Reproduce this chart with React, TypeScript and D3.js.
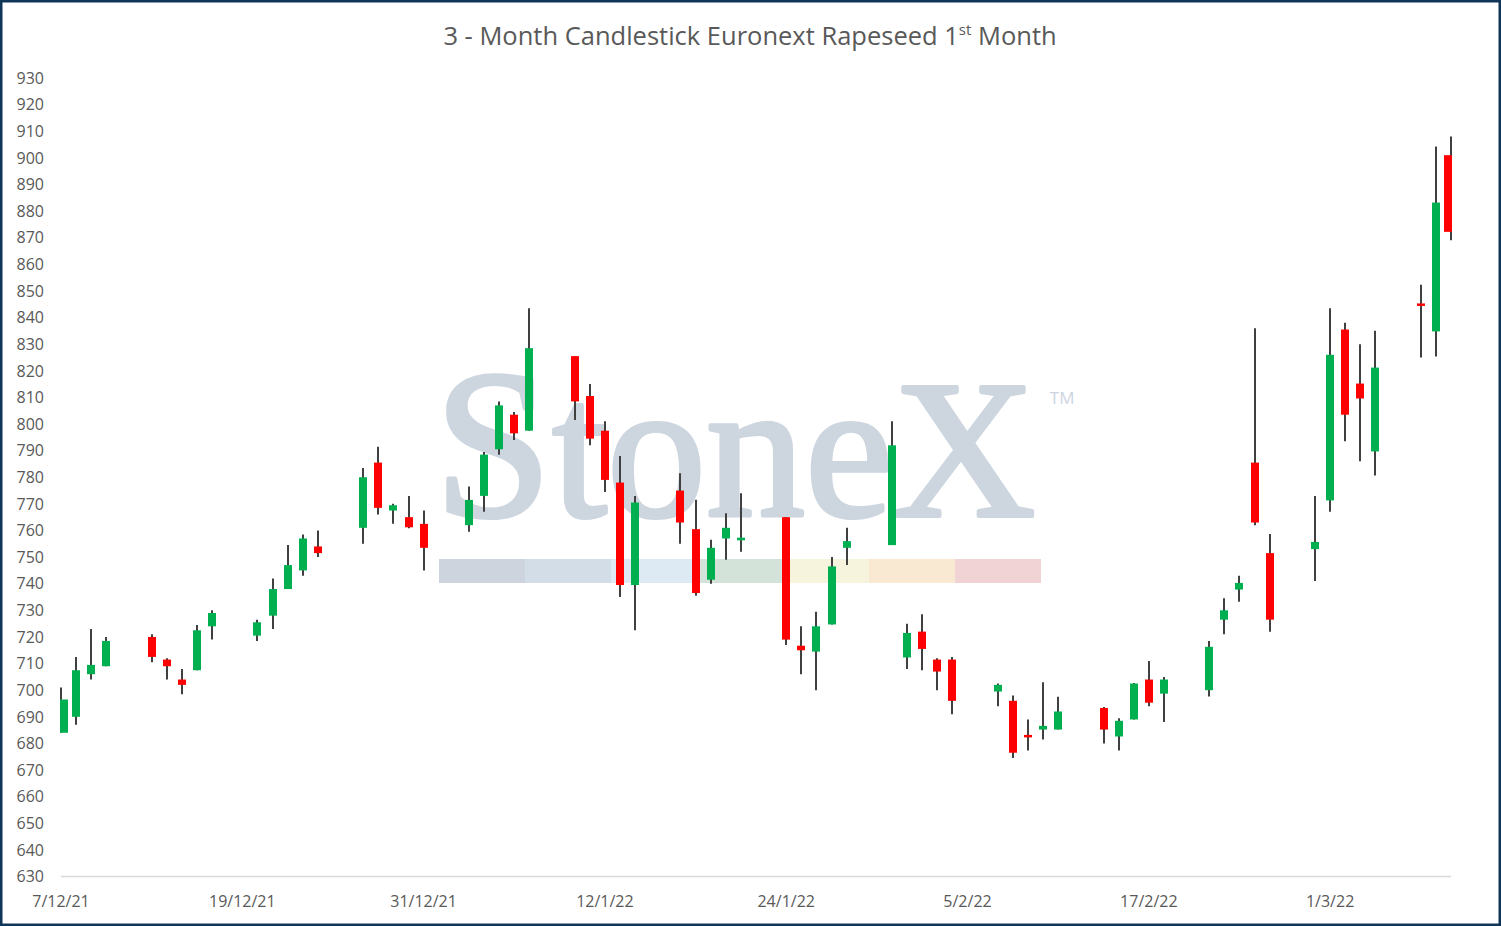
import React from "react";
import * as d3 from "d3";

// Euronext Rapeseed 1st month, daily OHLC
const dates = [
  "2021-12-07", "2021-12-08", "2021-12-09", "2021-12-10",
  "2021-12-13", "2021-12-14", "2021-12-15", "2021-12-16", "2021-12-17",
  "2021-12-20", "2021-12-21", "2021-12-22", "2021-12-23", "2021-12-24",
  "2021-12-27", "2021-12-28", "2021-12-29", "2021-12-30", "2021-12-31",
  "2022-01-03", "2022-01-04", "2022-01-05", "2022-01-06", "2022-01-07",
  "2022-01-10", "2022-01-11", "2022-01-12", "2022-01-13", "2022-01-14",
  "2022-01-17", "2022-01-18", "2022-01-19", "2022-01-20", "2022-01-21",
  "2022-01-24", "2022-01-25", "2022-01-26", "2022-01-27", "2022-01-28",
  "2022-01-31", "2022-02-01", "2022-02-02", "2022-02-03", "2022-02-04",
  "2022-02-07", "2022-02-08", "2022-02-09", "2022-02-10", "2022-02-11",
  "2022-02-14", "2022-02-15", "2022-02-16", "2022-02-17", "2022-02-18",
  "2022-02-21", "2022-02-22", "2022-02-23", "2022-02-24", "2022-02-25",
  "2022-02-28", "2022-03-01", "2022-03-02", "2022-03-03", "2022-03-04",
  "2022-03-07", "2022-03-08", "2022-03-09",
];

const open = [
  684, 690, 706, 709,
  720, 711.5, 704, 707.5, 724,
  720.5, 728, 738, 745, 754,
  761, 785.5, 767.5, 765, 762.5,
  762, 773, 790.5, 803.5, 797.5,
  825.5, 810.5, 797.5, 778, 739.5,
  775, 760.5, 741.5, 757, 756.3,
  765, 716.7, 714.5, 724.7, 753.5,
  754.5, 712.3, 722, 711.5, 711.5,
  699.5, 696, 683.2, 685.2, 685.2,
  693.3, 682.6, 689, 704, 698.7,
  700, 726.5, 737.8, 785.5, 751.5,
  753, 771.3, 835.5, 815.2, 789.7,
  845.3, 834.8, 901,
];

const high = [
  701, 712.5, 723, 720,
  721, 712, 708, 724.5, 730,
  726.5, 742, 754.5, 758.5, 760,
  783.5, 791.5, 770, 773, 767.5,
  776.5, 789.5, 808.5, 804.5, 843.5,
  825.5, 815, 801, 788, 773,
  781.5, 771.5, 756.5, 766.5, 774,
  765, 724, 729.5, 750, 761,
  801, 725, 728.5, 712, 712.5,
  702.5, 698, 689, 703, 697.5,
  693.7, 689.5, 702.7, 711, 705,
  718.5, 734.5, 743, 836, 758.7,
  773, 843.5, 838, 830, 835,
  852.3, 904.3, 908,
];

const low = [
  684, 687, 704, 709,
  710.5, 704, 698.5, 707.5, 719,
  718.5, 723, 738, 743, 750,
  755, 766, 762.5, 760.8, 745,
  759.5, 767, 788.5, 794, 797.5,
  801.5, 792, 774.5, 735, 722.5,
  755, 735.5, 740, 749, 752,
  717, 706, 700, 724.7, 747,
  754.5, 708, 707.5, 700, 691,
  694, 674.5, 677.3, 681.5, 685.2,
  680, 677.3, 689, 694, 688,
  697.6, 721, 733.2, 762, 722,
  741, 767, 793.5, 786, 780.7,
  825, 825.4, 869,
];

const close = [
  696.5, 707.5, 709.5, 718.5,
  712.5, 709, 702, 722.5, 729,
  725.5, 738, 747, 757, 751.5,
  780, 768.5, 769.5, 761.2, 753.5,
  771.5, 788.5, 807, 796.5, 828.5,
  808.5, 794.5, 779, 739.5, 770.5,
  763, 736.5, 753.5, 761, 757.3,
  719, 715, 724, 746.5, 756,
  792, 721.5, 715.5, 707, 696,
  702, 676.5, 682.4, 686.6, 692,
  685.2, 688.5, 702.5, 695.3, 704,
  716.3, 730, 740.3, 763, 726.5,
  755.7, 826, 803.5, 809.6, 821.2,
  844.5, 883.2, 872.2,
];

const xTickDates = [
  "2021-12-07", "2021-12-19", "2021-12-31", "2022-01-12",
  "2022-01-24", "2022-02-05", "2022-02-17", "2022-03-01",
];
const xTickLabels = [
  "7/12/21", "19/12/21", "31/12/21", "12/1/22",
  "24/1/22", "5/2/22", "17/2/22", "1/3/22",
];

const yTicks = [
  630, 640, 650, 660, 670, 680, 690, 700, 710, 720, 730, 740, 750, 760, 770, 780,
  790, 800, 810, 820, 830, 840, 850, 860, 870, 880, 890, 900, 910, 920, 930,
];

const bandColors = [
  "#cdd4dd", "#d3dde8", "#dde9f3", "#d3e3da", "#f6f4dc", "#f9e9d3", "#f2d3d5",
];

const W = 1501;
const H = 926;
const LEFT = 61;
const RIGHT = 1451;
const TOP = 78;
const BOTTOM = 876.5;
const BODY_W = 8;
const FONT = "'Open Sans', 'Noto Sans', sans-serif";

const parse = d3.utcParse("%Y-%m-%d");

export default function App() {
  const x = d3
    .scaleUtc()
    .domain([parse(dates[0])!, parse(dates[dates.length - 1])!])
    .range([LEFT, RIGHT]);
  const y = d3.scaleLinear().domain([630, 930]).range([BOTTOM, TOP]);

  const band = d3
    .scaleBand<number>()
    .domain(d3.range(bandColors.length))
    .range([439, 1041]);

  return (
    <div style={{ position: "absolute", left: 0, top: 0, width: W, height: H }}>
      <svg width={W} height={H} style={{ display: "block" }}>
        <rect x={1.25} y={1.25} width={W - 2.5} height={H - 2.5} fill="#fff" stroke="#0f3658" strokeWidth={2.5} />

        {/* title */}
        <text x={750} y={45} textAnchor="middle" fill="#595959" fontFamily={FONT} fontSize={25.5}>
          3 - Month Candlestick Euronext Rapeseed 1
          <tspan fontSize={15} dy={-10}>st</tspan>
          <tspan dy={10}> Month</tspan>
        </text>

        {/* watermark */}
        <g fill="#cdd5df">
          <text
            x={434}
            y={516}
            fontFamily="'Liberation Serif', serif"
            fontSize={198}
            stroke="#cdd5df"
            strokeWidth={4}
            strokeLinejoin="round"
          >
            <tspan fontSize={212}>S</tspan>toneX
            <tspan fontFamily={FONT} fontSize={17} stroke="none" dx={14} dy={-112}>TM</tspan>
          </text>
          {bandColors.map((c, i) => (
            <rect key={i} x={band(i)!} y={559} width={band.bandwidth()} height={24} fill={c} />
          ))}
        </g>

        {/* y axis labels */}
        {yTicks.map((t) => (
          <text key={t} x={44} y={y(t)} dy="0.36em" textAnchor="end" fill="#595959" fontFamily={FONT} fontSize={16}>
            {t}
          </text>
        ))}

        {/* x axis */}
        <line x1={LEFT} x2={RIGHT} y1={BOTTOM} y2={BOTTOM} stroke="#d9d9d9" strokeWidth={1.5} />
        {xTickDates.map((d, i) => (
          <text key={d} x={x(parse(d)!)} y={907} textAnchor="middle" fill="#595959" fontFamily={FONT} fontSize={16}>
            {xTickLabels[i]}
          </text>
        ))}

        {/* candles */}
        {dates.map((d, i) => {
          const cx = Math.round(x(parse(d)!));
          const up = close[i] >= open[i];
          const top = y(Math.max(open[i], close[i]));
          const bot = y(Math.min(open[i], close[i]));
          const h = Math.max(bot - top, 2.5);
          const bx = Math.min(Math.max(cx - BODY_W / 2, LEFT - 1), RIGHT + 1 - BODY_W);
          return (
            <g key={d}>
              <line x1={cx} x2={cx} y1={y(high[i])} y2={y(low[i])} stroke="#404040" strokeWidth={2} />
              <rect x={bx} y={top} width={BODY_W} height={h} fill={up ? "#00b050" : "#ff0000"} />
            </g>
          );
        })}
      </svg>
    </div>
  );
}
